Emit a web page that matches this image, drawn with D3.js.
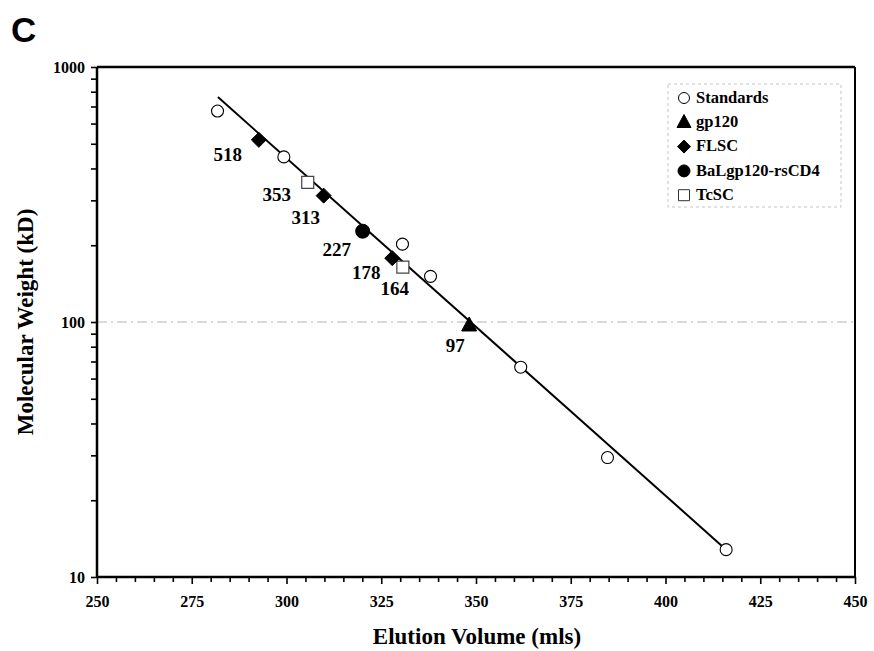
<!DOCTYPE html>
<html><head><meta charset="utf-8">
<script src="https://cdn.jsdelivr.net/npm/d3@7"></script>
<style>body{margin:0;background:#fff}svg{display:block}</style>
</head><body>
<svg id="c" width="874" height="651"></svg>
<script>
// ---- data ----
const standards = [[281.8,672],[299.3,444],[330.6,202],[338.0,151],[361.8,66.5],[384.7,29.4],[416.0,12.8]];
const gp120 = [[348.2,97]];
const flsc = [[292.7,518],[309.8,313],[327.9,178]];
const balgp = [[320.1,227]];
const tcsc = [[305.6,353],[330.7,164]];
const fitLine = [[281.9,762],[416.0,12.8]];
const pointLabels = [
  {text:"518", v:292.7, mw:518}, {text:"353", v:305.6, mw:353}, {text:"313", v:309.8, mw:313},
  {text:"227", v:320.1, mw:227}, {text:"178", v:327.9, mw:178}, {text:"164", v:330.7, mw:164},
  {text:"97", v:348.2, mw:97}
];
const labelOffsets = [[-31,17],[-31,14],[-18,24],[-26,20],[-26,16],[-8,23],[-14,22]];
const legendItems = ["Standards","gp120","FLSC","BaLgp120-rsCD4","TcSC"];
const xTickLabels = [250,275,300,325,350,375,400,425,450];
const yTickLabels = [10,100,1000];

const svg = d3.select("#c");
const L=97,R=855,T=67,B=577;
const x = d3.scaleLinear().domain([250,450]).range([L,R]);
const y = d3.scaleLog().domain([10,1000]).range([B,T]);
const serif = "'Liberation Serif','Times New Roman',serif";

// grid line at 100
svg.append("line").attr("x1",L).attr("x2",R).attr("y1",y(100)).attr("y2",y(100))
  .attr("stroke","#b5b5b5").attr("stroke-width",1).attr("stroke-dasharray","10,4,2,4");

// frame top/right
svg.append("line").attr("x1",L).attr("x2",R).attr("y1",T).attr("y2",T).attr("stroke","#000").attr("stroke-width",2.5);
svg.append("line").attr("x1",R).attr("x2",R).attr("y1",T).attr("y2",B).attr("stroke","#000").attr("stroke-width",2);

// axes
const xAxis = d3.axisBottom(x).tickValues(d3.range(250,451,5)).tickSize(6).tickPadding(13)
  .tickFormat(d=> xTickLabels.includes(d)? d : "");
const gx = svg.append("g").attr("transform",`translate(0,${B})`).call(xAxis);
gx.select(".domain").attr("stroke-width",2.5).attr("d",`M${L},0H${R}`);
gx.selectAll(".tick line").attr("stroke-width",1.6).attr("y2",d=> xTickLabels.includes(d)?7:5);
gx.selectAll("text").attr("font-family",serif).attr("font-weight","bold").attr("font-size",16).attr("fill","#000");

const yTicks = [];
[10,100].forEach(b=>{for(let i=1;i<10;i++) yTicks.push(b*i);}); yTicks.push(1000);
const yAxis = d3.axisLeft(y).tickValues(yTicks).tickSize(6).tickPadding(6)
  .tickFormat(d=> yTickLabels.includes(d)? d : "");
const gy = svg.append("g").attr("transform",`translate(${L},0)`).call(yAxis);
gy.select(".domain").attr("stroke-width",2.5).attr("d",`M0,${B}V${T}`);
gy.selectAll(".tick line").attr("stroke-width",1.6);
gy.selectAll("text").attr("font-family",serif).attr("font-weight","bold").attr("font-size",16).attr("fill","#000");

// fit line
svg.append("path").datum(fitLine).attr("fill","none").attr("stroke","#000").attr("stroke-width",2)
  .attr("d", d3.line().x(d=>x(d[0])).y(d=>y(d[1])));

// marker shapes
const shapes = {
  circle: r => `M${r},0A${r},${r} 0 1,1 ${-r},0A${r},${r} 0 1,1 ${r},0Z`,
  square: s => `M${-s/2},${-s/2}h${s}v${s}h${-s}Z`,
  diamond: (w,h) => `M0,${-h/2}L${w/2},0L0,${h/2}L${-w/2},0Z`,
  triangle: (w,h) => `M0,${-h*0.6}L${w/2},${h*0.4}L${-w/2},${h*0.4}Z`
};
function drawPts(data, d, fill, stroke, sw){
  svg.append("g").selectAll("path").data(data).join("path")
    .attr("transform",p=>`translate(${x(p[0])},${y(p[1])})`)
    .attr("d",d).attr("fill",fill).attr("stroke",stroke).attr("stroke-width",sw);
}
drawPts(standards, shapes.circle(6), "#fff", "#000", 1.1);
drawPts(tcsc, shapes.square(12), "#fff", "#444", 1.2);
drawPts(flsc, shapes.diamond(15,15), "#000", "#000", 1);
drawPts(balgp, shapes.circle(7), "#000", "#000", 1);
drawPts(gp120, shapes.triangle(15,14), "#000", "#000", 1);

// point labels
svg.append("g").selectAll("text").data(pointLabels).join("text")
  .attr("x",(d,i)=>x(d.v)+labelOffsets[i][0]).attr("y",(d,i)=>y(d.mw)+labelOffsets[i][1])
  .attr("text-anchor","middle").attr("dominant-baseline","middle")
  .attr("font-family",serif).attr("font-weight","bold").attr("font-size",19).text(d=>d.text);

// legend
const lg = svg.append("g");
lg.append("rect").attr("x",668).attr("y",84).attr("width",173).attr("height",123)
  .attr("fill","#fff").attr("stroke","#c4c4c4").attr("stroke-width",1).attr("stroke-dasharray","3,3");
const lgShapes = [
  [shapes.circle(5.5),"#fff","#000"],
  [shapes.triangle(14,13),"#000","#000"],
  [shapes.diamond(13,13),"#000","#000"],
  [shapes.circle(6),"#000","#000"],
  [shapes.square(11),"#fff","#333"]
];
legendItems.forEach((t,i)=>{
  const yy = 98 + i*24.3;
  lg.append("path").attr("transform",`translate(684,${yy})`).attr("d",lgShapes[i][0])
    .attr("fill",lgShapes[i][1]).attr("stroke",lgShapes[i][2]).attr("stroke-width",1);
  lg.append("text").attr("x",696).attr("y",yy+1).attr("dominant-baseline","middle")
    .attr("font-family",serif).attr("font-weight","bold").attr("font-size",16.5).text(t);
});

// titles
svg.append("text").attr("x",477).attr("y",639).attr("text-anchor","middle").attr("dominant-baseline","middle")
  .attr("font-family",serif).attr("font-weight","bold").attr("font-size",23).text("Elution Volume (mls)");
svg.append("text").attr("transform","translate(28,322) rotate(-90)").attr("text-anchor","middle").attr("dominant-baseline","middle")
  .attr("font-family",serif).attr("font-weight","bold").attr("font-size",23).text("Molecular Weight (kD)");
svg.append("text").attr("x",11).attr("y",42).attr("font-family","'Liberation Sans',Arial,sans-serif")
  .attr("font-weight","bold").attr("font-size",35).text("C");
</script>
</body></html>
